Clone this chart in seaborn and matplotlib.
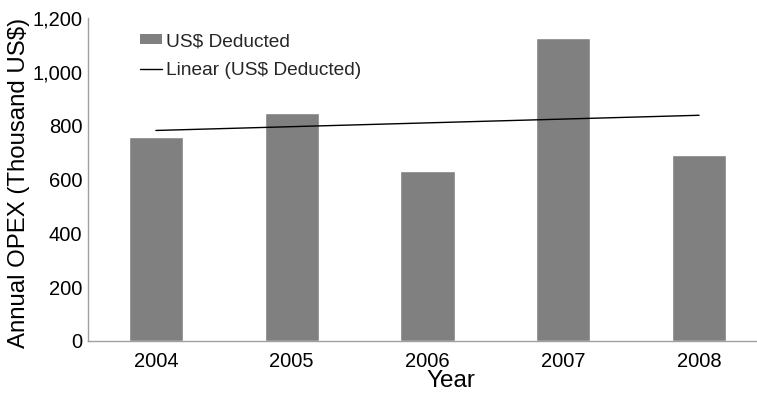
import numpy as np
import pandas as pd
import matplotlib
matplotlib.use("Agg")
import matplotlib.pyplot as plt
import seaborn as sns
from matplotlib.ticker import FuncFormatter
from matplotlib.patches import Patch
from matplotlib.lines import Line2D

years = ["2004", "2005", "2006", "2007", "2008"]
deducted = [759, 847, 630, 1126, 690]
y_ticks = [0, 200, 400, 600, 800, 1000, 1200]

sns.set_theme(style="white")
plt.rcParams["font.family"] = ["Liberation Sans", "DejaVu Sans"]

df = pd.DataFrame({"Year": years, "US$ Deducted": deducted})

fig = plt.figure(figsize=(7.57, 3.95), dpi=100)
ax = fig.add_axes([88 / 757, 54 / 395, 679 / 757, 323 / 395])

sns.barplot(data=df, x="Year", y="US$ Deducted", color="#808080",
            saturation=1, width=0.4, ax=ax)
sns.regplot(x=np.arange(len(years)), y=np.array(deducted, dtype=float),
            scatter=False, ci=None, truncate=True, ax=ax,
            line_kws=dict(color="black", lw=1))

ax.set_xlim(-0.5, 4.5)
ax.set_ylim(0, 1200)
ax.set_yticks(y_ticks)
ax.set_xticks(range(len(years)))
ax.set_xticklabels(years)
ax.yaxis.set_major_formatter(FuncFormatter(lambda v, p: f"{int(v):,}"))
ax.tick_params(axis="both", length=0, labelsize=14.5, colors="black")
ax.tick_params(axis="y", pad=4)
ax.tick_params(axis="x", pad=8)

for s in ["top", "right"]:
    ax.spines[s].set_visible(False)
for s in ["left", "bottom"]:
    ax.spines[s].set_color("#a0a0a0")
    ax.spines[s].set_linewidth(1.0)

ax.set_xlabel("Year", fontsize=17.5, color="black")
ax.set_ylabel("Annual OPEX (Thousand US$)", fontsize=17.3, color="black")
ax.xaxis.set_label_coords(0.535, -0.09)
ax.yaxis.set_label_coords(-0.085, 0.49)

handles = [Patch(facecolor="#808080", edgecolor="none"),
           Line2D([0], [0], color="black", lw=1)]
ax.legend(handles, ["US$ Deducted", "Linear (US$ Deducted)"],
          loc="upper left", bbox_to_anchor=(140 / 757, 1 - 33 / 395),
          bbox_transform=fig.transFigure, frameon=False, fontsize=13.8,
          handlelength=1.15, handleheight=0.4, handletextpad=0.2,
          labelspacing=0.62, borderaxespad=0, borderpad=0)

fig.savefig("out.png", dpi=100)
